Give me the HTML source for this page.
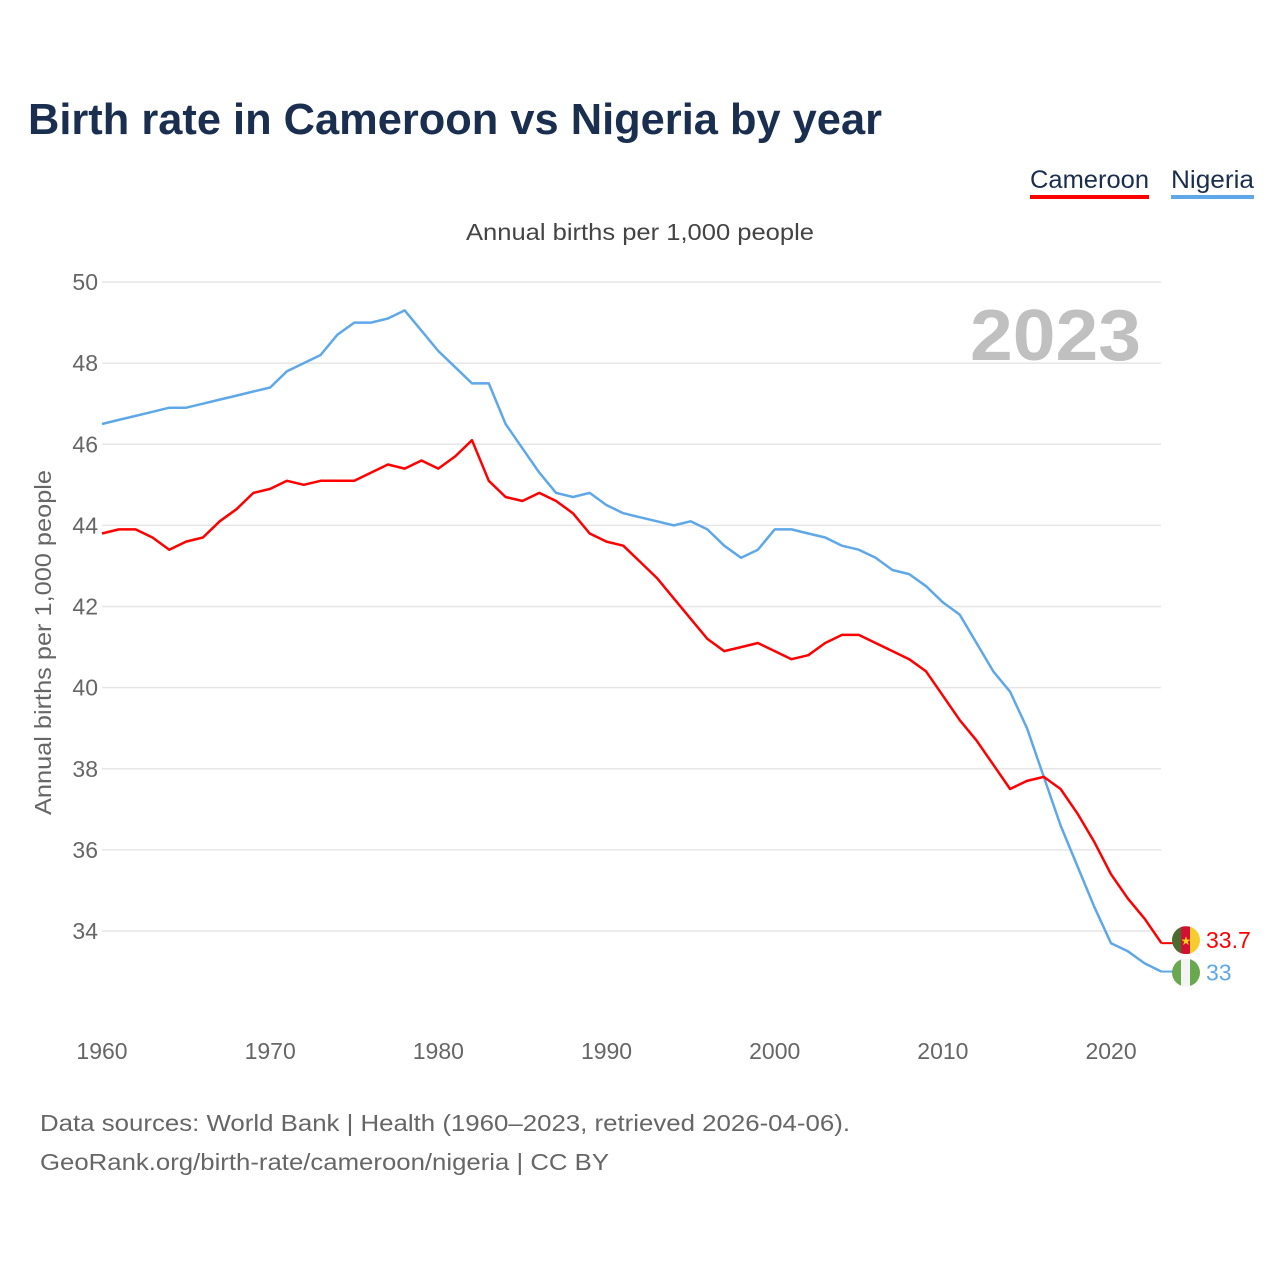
<!DOCTYPE html>
<html><head><meta charset="utf-8"><style>
html,body{margin:0;padding:0;background:#fff;}
svg text{font-family:"Liberation Sans",sans-serif;}
</style></head><body>
<svg id="chart" width="1280" height="1280" viewBox="0 0 1280 1280" xmlns="http://www.w3.org/2000/svg">
<text x="28" y="134" font-size="44" font-weight="bold" fill="#1a2e4f" textLength="854" lengthAdjust="spacingAndGlyphs">Birth rate in Cameroon vs Nigeria by year</text>
<g>
<text x="1030" y="188" font-size="25" fill="#1a2e4f" textLength="119" lengthAdjust="spacingAndGlyphs">Cameroon</text>
<rect x="1030" y="195" width="119" height="4" fill="#ff0000"/>
<text x="1171" y="188" font-size="25" fill="#1a2e4f" textLength="83" lengthAdjust="spacingAndGlyphs">Nigeria</text>
<rect x="1171" y="195" width="83" height="4" fill="#5fa8e8"/>
</g>
<text x="466" y="240" font-size="23" fill="#444" textLength="348" lengthAdjust="spacingAndGlyphs">Annual births per 1,000 people</text>
<text transform="translate(51,815) rotate(-90)" font-size="23" fill="#666" textLength="345" lengthAdjust="spacingAndGlyphs">Annual births per 1,000 people</text>
<text x="970" y="360" font-size="72" font-weight="bold" fill="#c0c0c0" textLength="171" lengthAdjust="spacingAndGlyphs">2023</text>
<g id="grid"></g><g id="xticks"></g><g id="series"></g><g id="ends"></g>
<text x="40" y="1131" font-size="23" fill="#666" textLength="810" lengthAdjust="spacingAndGlyphs">Data sources: World Bank | Health (1960–2023, retrieved 2026-04-06).</text>
<text x="40" y="1170" font-size="23" fill="#666" textLength="569" lengthAdjust="spacingAndGlyphs">GeoRank.org/birth-rate/cameroon/nigeria | CC BY</text>
</svg>
<script>
const years = [];
for (let y = 1960; y <= 2023; y++) years.push(y);
const cameroon = [43.8,43.9,43.9,43.7,43.4,43.6,43.7,44.1,44.4,44.8,44.9,45.1,45.0,45.1,45.1,45.1,45.3,45.5,45.4,45.6,45.4,45.7,46.1,45.1,44.7,44.6,44.8,44.6,44.3,43.8,43.6,43.5,43.1,42.7,42.2,41.7,41.2,40.9,41.0,41.1,40.9,40.7,40.8,41.1,41.3,41.3,41.1,40.9,40.7,40.4,39.8,39.2,38.7,38.1,37.5,37.7,37.8,37.5,36.9,36.2,35.4,34.8,34.3,33.7];
const nigeria = [46.5,46.6,46.7,46.8,46.9,46.9,47.0,47.1,47.2,47.3,47.4,47.8,48.0,48.2,48.7,49.0,49.0,49.1,49.3,48.8,48.3,47.9,47.5,47.5,46.5,45.9,45.3,44.8,44.7,44.8,44.5,44.3,44.2,44.1,44.0,44.1,43.9,43.5,43.2,43.4,43.9,43.9,43.8,43.7,43.5,43.4,43.2,42.9,42.8,42.5,42.1,41.8,41.1,40.4,39.9,39.0,37.8,36.6,35.6,34.6,33.7,33.5,33.2,33.0];
const yTicks = [34,36,38,40,42,44,46,48,50];
const xTicks = [1960,1970,1980,1990,2000,2010,2020];
const endLabels = ["33.7","33"];

const NS = "http://www.w3.org/2000/svg";
const xS = v => 102 + (v - 1960) * (1161.5 - 102) / 63;
const yS = v => 282 + (50 - v) * (931 - 282) / 16;
function mk(tag, attrs, parent, txt){const e=document.createElementNS(NS,tag);for(const k in attrs)e.setAttribute(k,attrs[k]);if(txt!==undefined)e.textContent=txt;parent.appendChild(e);return e;}
const grid=document.getElementById('grid'), xt=document.getElementById('xticks'), ser=document.getElementById('series'), ends=document.getElementById('ends');
yTicks.forEach(t=>{
  const l=mk('line',{x1:102,x2:1161,y1:yS(t),y2:yS(t),stroke:'#e6e6e6','stroke-width':1.5},grid);
  
  
  const tx=mk('text',{x:98,y:yS(t)+8,'font-size':23,fill:'#666','text-anchor':'end'},grid,t);
  
  
});
xTicks.forEach(t=>{
  const tx=mk('text',{x:xS(t),y:1059,'font-size':23,fill:'#666','text-anchor':'middle'},xt,t);
  
  
});
function line(vals,color,name){
  const d=vals.map((v,i)=>(i?'L':'M')+xS(years[i]).toFixed(1)+' '+yS(v).toFixed(1)).join(' ');
  const p=mk('path',{d:d,fill:'none',stroke:color,'stroke-width':2.5,'stroke-linejoin':'round'},ser);
  
  
}
line(nigeria,'#5fa8e8','nigeria-line');
line(cameroon,'#ff0000','cameroon-line');
const cy1=yS(cameroon[63])-3, cy2=yS(nigeria[63])+1;
mk('line',{x1:xS(2023),x2:1174,y1:yS(cameroon[63]),y2:yS(cameroon[63]),stroke:'#ff0000','stroke-width':2},ends);
mk('line',{x1:xS(2023),x2:1174,y1:yS(nigeria[63]),y2:yS(nigeria[63]),stroke:'#5fa8e8','stroke-width':2},ends);
const f1=mk('g',{},ends);


const cpa=mk('clipPath',{id:'c1'},f1); mk('circle',{cx:1186,cy:cy1,r:14},cpa);
mk('rect',{x:1172,y:cy1-14,width:10,height:28,fill:'#4a6b2e','clip-path':'url(#c1)'},f1);
mk('rect',{x:1181,y:cy1-14,width:10,height:28,fill:'#d21034','clip-path':'url(#c1)'},f1);
mk('rect',{x:1190,y:cy1-14,width:10,height:28,fill:'#f7cc2e','clip-path':'url(#c1)'},f1);
mk('text',{x:1186,y:cy1+5,'font-size':12,fill:'#fcd116','text-anchor':'middle'},f1,'★');
const f2=mk('g',{},ends);


const cp=mk('clipPath',{id:'c2'},f2); mk('circle',{cx:1186,cy:cy2,r:14},cp);
mk('rect',{x:1172,y:cy2-14,width:10,height:28,fill:'#6aa84f','clip-path':'url(#c2)'},f2);
mk('rect',{x:1181,y:cy2-14,width:10,height:28,fill:'#f4f4f4','clip-path':'url(#c2)'},f2);
mk('rect',{x:1190,y:cy2-14,width:10,height:28,fill:'#6aa84f','clip-path':'url(#c2)'},f2);
const l1=mk('text',{x:1206,y:cy1+8,'font-size':23,fill:'#ff0000'},ends,endLabels[0]);


const l2=mk('text',{x:1206,y:cy2+8,'font-size':23,fill:'#5fa8e8'},ends,endLabels[1]);


</script>
</body></html>
